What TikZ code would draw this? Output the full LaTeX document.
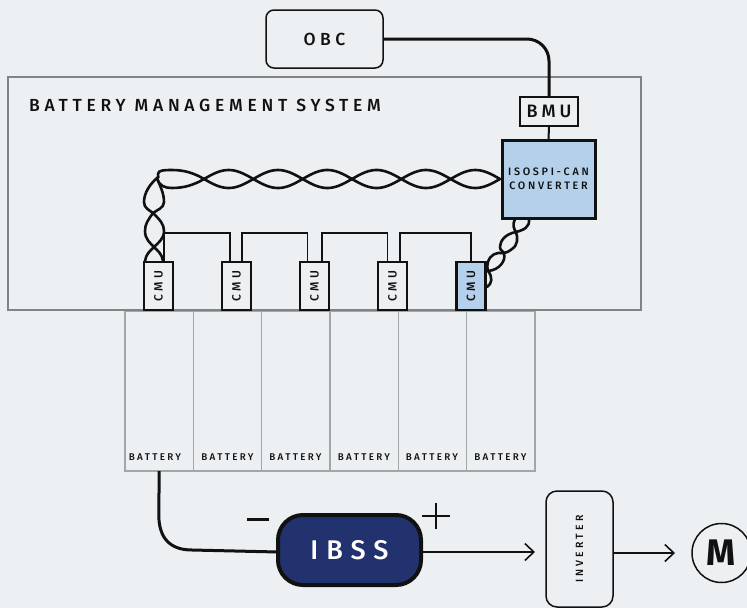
\documentclass[tikz,border=0pt]{standalone}
\usepackage{fontspec}
\setmainfont{Fira Sans Medium}[BoldFont={Fira Sans Bold}]
\usetikzlibrary{arrows.meta}
\definecolor{bg}{HTML}{ECF0F3}
\definecolor{frame}{HTML}{808485}
\definecolor{cell}{HTML}{A3A6A7}
\definecolor{lblue}{HTML}{B5D0EB}
\definecolor{navy}{HTML}{22326F}
\definecolor{ink}{HTML}{111111}
\newcommand{\ltxt}[3]{{\fontsize{#1}{#1}\selectfont\addfontfeature{LetterSpace=#2}#3}}
\tikzset{
  box/.style={draw=ink,inner sep=0pt,outer sep=0pt,align=center,text=ink},
  cmubox/.style={box,line width=1.5pt,fill=bg,minimum width=29pt,minimum height=48pt},
  cell box/.style={draw=cell,line width=1.3pt,inner sep=0pt,outer sep=0pt,minimum width=68.3pt,minimum height=160pt},
  cell label/.style={inner sep=0pt,text=ink},
  wire/.style={draw=ink,line width=1.4pt},
  thick wire/.style={draw=ink,line width=3pt},
  strand/.style={draw=ink,line width=2.6pt,line cap=round},
  flow/.style={draw=ink,line width=1.6pt,-{Straight Barb[length=9pt,width=17pt,line width=1.6pt]}}
}
\begin{document}
\begin{tikzpicture}[x=1pt,y=-1pt]
\useasboundingbox (0,0) rectangle (747,608);
\clip (0,0) rectangle (747,608);
\fill[bg] (0,0) rectangle (747,608);
% battery management frame
\node[draw=frame,line width=1.6pt,inner sep=0pt,outer sep=0pt,minimum width=633pt,minimum height=233pt] (bms) at (324.5,193.5) {};
\node[anchor=west,inner sep=0pt,text=ink] (bmstitle) at (29,105) {\ltxt{17.5}{27}{BATTERY MANAGEMENT SYSTEM}};
% batteries
\foreach \i/\x/\lx in {1/159.2/155,2/227.5/227.5,3/295.8/295.5,4/364.1/364,5/432.4/432,6/500.7/500.5}{
  \node[cell box] (bat\i) at (\x,391) {};
  \node[cell label] (batl\i) at (\lx,457) {\ltxt{9.8}{24}{BATTERY}};
}
\draw[frame,line width=1.6pt] (bms.south west) -- (bms.south east);
% top boxes
\node[box,rounded corners=8pt,line width=1.5pt,minimum width=117pt,minimum height=58pt] (obc) at (324.5,39) {\ltxt{17.5}{25}{OBC}};
\node[box,line width=1.5pt,minimum width=58pt,minimum height=29pt] (bmu) at (549,111.5) {\ltxt{18}{22}{BMU}};
\node[box,fill=lblue,line width=3pt,minimum width=93pt,minimum height=78pt] (conv) at (548.5,179) {\ltxt{10.8}{25}{ISOSPI-CAN}\\[2.5pt]\ltxt{10.8}{25}{CONVERTER}};
% CMUs
\node[cmubox] (cmu1) at (158.5,286) {\rotatebox{90}{\ltxt{12}{25}{CMU}}};
\node[cmubox] (cmu2) at (236.5,286) {\rotatebox{90}{\ltxt{12}{25}{CMU}}};
\node[cmubox] (cmu3) at (314.5,286) {\rotatebox{90}{\ltxt{12}{25}{CMU}}};
\node[cmubox] (cmu4) at (392.5,286) {\rotatebox{90}{\ltxt{12}{25}{CMU}}};
\node[cmubox,fill=lblue,line width=2.6pt] (cmu5) at (471,286) {\rotatebox{90}{\ltxt{12}{25}{CMU}}};
% bottom boxes
\node[box,fill=navy,rounded corners=25pt,line width=4pt,minimum width=143pt,minimum height=70pt,text=white] (ibss) at (349.5,550) {\ltxt{27}{30}{IBSS}};
\node[box,rounded corners=11pt,line width=1.5pt,minimum width=67pt,minimum height=116pt] (inv) at (579.5,549) {\rotatebox{90}{\ltxt{10.5}{30}{INVERTER}}};
\node[box,circle,line width=1.5pt,minimum size=59pt] (motor) at (721.5,553) {\fontsize{37}{37}\selectfont\bfseries M};
\node[inner sep=0pt,outer sep=0pt] (minus) at (258,519) {};
\node[inner sep=0pt,outer sep=0pt] (plus) at (436,516) {};
\draw[ink,line width=3pt] ([xshift=-11pt]minus.center) -- ([xshift=11pt]minus.center);
\draw[ink,line width=2.8pt] ([xshift=-14pt]plus.center) -- ([xshift=14pt]plus.center);
\draw[ink,line width=2.8pt] ([yshift=-13pt]plus.center) -- ([yshift=13pt]plus.center);
% connectors
\draw[thick wire,rounded corners=22pt] (obc.east) -- (obc.east -| bmu.north) -- (bmu.north);
\draw[draw=ink,line width=2pt] (bmu.south) -- (conv.north);
\draw[thick wire] (bat1.south) -- (158.8,515) .. controls (158.8,538) and (170,550) .. (192,550) -- ([yshift=-2pt]ibss.west);
\coordinate (ibssout) at ([yshift=-2pt]ibss.east);
\coordinate (invin) at ([xshift=-11pt]inv.west |- ibssout);
\draw[flow] (ibssout) -- (invin);
\coordinate (motin) at ([xshift=-17pt]motor.west);
\draw[flow] (inv.east |- motin) -- (motin);
% CMU daisy chain
\coordinate (ch1a) at ([xshift=5.5pt]cmu1.north);
\draw[wire] (ch1a) -- ++(0,-29) -| ([xshift=-6.5pt]cmu2.north);
\draw[wire] ([xshift=5.5pt]cmu2.north) |- (258,233) -| ([xshift=-7pt]cmu3.north);
\draw[wire] ([xshift=7.5pt]cmu3.north) |- (330,233) -| ([xshift=-5pt]cmu4.north);
\draw[wire] ([xshift=7.5pt]cmu4.north) |- (420,233) -| (cmu5.north);
% horizontal twisted pair
\draw[strand] plot[domain=204:500,samples=120,smooth] (\x,{179+9*sin((\x-204)*3.649)});
\draw[strand] plot[domain=204:500,samples=120,smooth] (\x,{179-9*sin((\x-204)*3.649)});
\draw[strand] (204,179) .. controls (194,173) and (184,170) .. (172,170)
  .. controls (165,170) and (158,170) .. (158,174)
  .. controls (158,177) and (159,178) .. (157,178);
\draw[strand] (204,179) .. controls (194,185) and (184,188) .. (172,188)
  .. controls (165,188) and (159,186) .. (157,178);
% vertical twisted pair
\draw[strand] (157,178) .. controls (150,184) and (144,193) .. (144,202)
  .. controls (144,208) and (149,210) .. (153,213)
  .. controls (160,220) and (164,224) .. (164,231)
  .. controls (164,239) and (158,243) .. (154,247)
  .. controls (150,251) and (146,254) .. (145,261);
\draw[strand] (157,178) .. controls (160,186) and (164,193) .. (164,202)
  .. controls (164,208) and (157,210) .. (153,213)
  .. controls (148,220) and (145,224) .. (145,231)
  .. controls (145,239) and (150,243) .. (154,247)
  .. controls (158,251) and (162,254) .. (163,261);
% lower right twisted pair
\draw[strand] (529,219) .. controls (530,227) and (524,230) .. (516,232)
  .. controls (505,234) and (500,241) .. (500,247)
  .. controls (500,251) and (503,250) .. (504,254)
  .. controls (506,260) and (500,270) .. (488,271)
  .. controls (493,277) and (492,284) .. (487,287);
\draw[strand] (515,219) .. controls (512,225) and (514,229) .. (516,232)
  .. controls (518,238) and (518,245) .. (512,249)
  .. controls (508,252) and (506,253) .. (503,253)
  .. controls (496,252) and (490,255) .. (488,262)
  .. controls (487,265) and (487,268) .. (488,271);
\end{tikzpicture}
\end{document}
